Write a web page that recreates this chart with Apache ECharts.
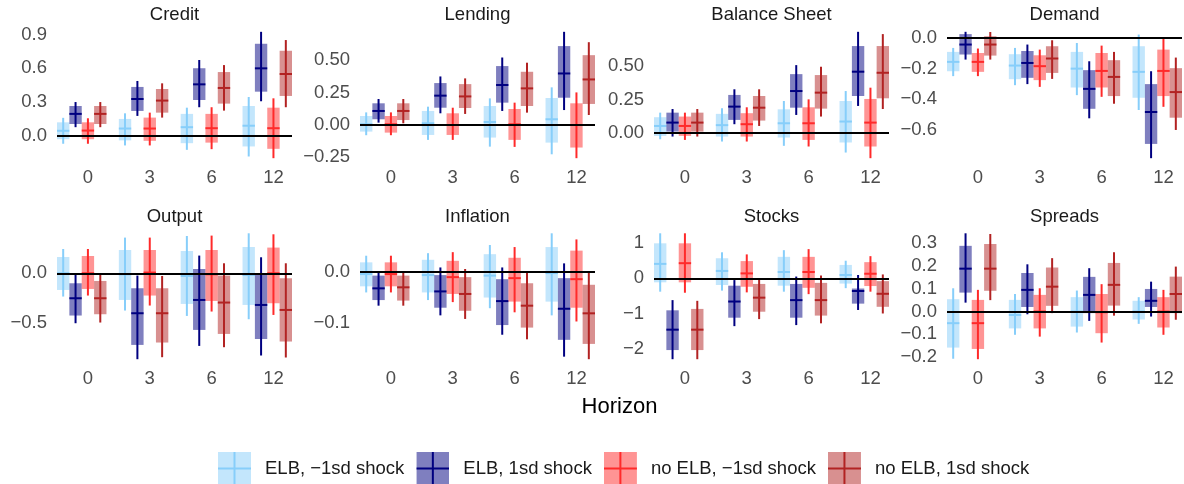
<!DOCTYPE html>
<html>
<head>
<meta charset="utf-8">
<script src="https://cdn.jsdelivr.net/npm/echarts@6/dist/echarts.min.js"></script>
<style>html,body{margin:0;padding:0;background:#fff}#c{width:1184px;height:484px}</style>
</head>
<body>
<div id="c"></div>
<script>
// ---------- data ----------
// each row: [lo90, lo68, median, hi68, hi90] for horizons 0,3,6,12
const horizons = ['0', '3', '6', '12'];
const seriesNames = ['ELB, \u22121sd shock', 'ELB, 1sd shock', 'no ELB, \u22121sd shock', 'no ELB, 1sd shock'];
const panelTitles = ['Credit', 'Lending', 'Balance Sheet', 'Demand', 'Output', 'Inflation', 'Stocks', 'Spreads'];

const credit = [
  [[-0.07,-0.03,0.045,0.12,0.16],[-0.085,-0.04,0.065,0.15,0.20],[-0.124,-0.065,0.077,0.195,0.25],[-0.183,-0.094,0.09,0.265,0.345]],
  [[0.077,0.105,0.195,0.265,0.30],[0.177,0.221,0.327,0.434,0.487],[0.254,0.318,0.457,0.60,0.673],[0.307,0.392,0.599,0.817,0.923]],
  [[-0.07,-0.03,0.047,0.12,0.156],[-0.085,-0.044,0.065,0.162,0.206],[-0.118,-0.06,0.068,0.195,0.254],[-0.198,-0.115,0.068,0.25,0.333]],
  [[0.077,0.105,0.195,0.265,0.30],[0.162,0.206,0.313,0.416,0.466],[0.224,0.286,0.425,0.566,0.628],[0.254,0.354,0.549,0.755,0.85]]
];
const lending = [
  [[-0.079,-0.051,0.005,0.069,0.097],[-0.115,-0.077,0.013,0.108,0.141],[-0.167,-0.097,0.023,0.146,0.205],[-0.226,-0.136,0.044,0.208,0.29]],
  [[0.018,0.044,0.108,0.167,0.2],[0.09,0.133,0.226,0.323,0.374],[0.108,0.172,0.308,0.454,0.52],[0.115,0.21,0.397,0.608,0.718]],
  [[-0.079,-0.059,0.005,0.069,0.097],[-0.115,-0.077,0.0,0.09,0.133],[-0.169,-0.115,0.005,0.123,0.172],[-0.256,-0.174,0.0,0.167,0.251]],
  [[0.013,0.038,0.108,0.167,0.2],[0.085,0.131,0.22,0.315,0.359],[0.095,0.146,0.282,0.41,0.48],[0.077,0.162,0.351,0.538,0.638]]
];
const balanceSheet = [
  [[-0.045,-0.02,0.054,0.119,0.153],[-0.062,-0.025,0.06,0.144,0.186],[-0.094,-0.032,0.074,0.178,0.24],[-0.144,-0.069,0.087,0.24,0.314]],
  [[-0.025,0.012,0.079,0.153,0.18],[0.067,0.099,0.198,0.285,0.327],[0.136,0.19,0.314,0.44,0.507],[0.203,0.277,0.458,0.649,0.755]],
  [[-0.05,-0.02,0.054,0.124,0.153],[-0.062,-0.025,0.067,0.149,0.193],[-0.099,-0.05,0.074,0.193,0.252],[-0.186,-0.099,0.079,0.255,0.339]],
  [[-0.025,0.012,0.079,0.153,0.18],[0.054,0.094,0.19,0.277,0.327],[0.124,0.183,0.302,0.433,0.495],[0.18,0.26,0.45,0.649,0.738]]
];
const demand = [
  [[-0.249,-0.217,-0.156,-0.091,-0.065],[-0.308,-0.269,-0.18,-0.106,-0.065],[-0.373,-0.323,-0.2,-0.091,-0.033],[-0.47,-0.39,-0.221,-0.054,0.022]],
  [[-0.141,-0.108,-0.043,0.025,0.04],[-0.301,-0.26,-0.163,-0.085,-0.043],[-0.524,-0.462,-0.332,-0.21,-0.152],[-0.784,-0.691,-0.483,-0.301,-0.217]],
  [[-0.249,-0.221,-0.156,-0.098,-0.069],[-0.319,-0.275,-0.184,-0.113,-0.076],[-0.384,-0.323,-0.215,-0.098,-0.05],[-0.449,-0.379,-0.215,-0.076,-0.004]],
  [[-0.141,-0.115,-0.043,0.011,0.039],[-0.267,-0.228,-0.134,-0.054,-0.015],[-0.429,-0.379,-0.254,-0.145,-0.091],[-0.6,-0.52,-0.353,-0.197,-0.128]]
];
const output = [
  [[-0.233,-0.167,0.0,0.163,0.243],[-0.373,-0.267,-0.01,0.233,0.357],[-0.427,-0.307,-0.027,0.223,0.373],[-0.46,-0.317,-0.017,0.263,0.4]],
  [[-0.5,-0.423,-0.25,-0.1,-0.007],[-0.86,-0.717,-0.4,-0.15,-0.023],[-0.727,-0.567,-0.267,0.043,0.177],[-0.823,-0.657,-0.317,-0.007,0.16]],
  [[-0.223,-0.157,0.0,0.173,0.243],[-0.323,-0.223,0.007,0.233,0.357],[-0.383,-0.277,-0.01,0.233,0.377],[-0.417,-0.3,0.0,0.257,0.39]],
  [[-0.493,-0.41,-0.25,-0.077,-0.007],[-0.84,-0.693,-0.4,-0.15,-0.027],[-0.74,-0.607,-0.293,-0.023,0.1],[-0.843,-0.683,-0.367,-0.05,0.1]]
];
const inflation = [
  [[-0.041,-0.029,-0.005,0.018,0.031],[-0.056,-0.041,-0.007,0.023,0.036],[-0.072,-0.051,-0.008,0.034,0.052],[-0.086,-0.059,-0.003,0.048,0.075]],
  [[-0.067,-0.056,-0.033,-0.008,0.0],[-0.086,-0.071,-0.039,-0.007,0.008],[-0.124,-0.105,-0.058,-0.015,0.008],[-0.167,-0.134,-0.073,-0.013,0.016]],
  [[-0.041,-0.029,-0.005,0.018,0.031],[-0.06,-0.044,-0.011,0.021,0.038],[-0.08,-0.059,-0.013,0.027,0.048],[-0.098,-0.071,-0.015,0.041,0.063]],
  [[-0.067,-0.057,-0.031,-0.008,0.001],[-0.093,-0.077,-0.044,-0.011,0.005],[-0.133,-0.11,-0.067,-0.023,-0.001],[-0.172,-0.142,-0.082,-0.026,-0.001]]
];
const stocks = [
  [[-0.38,-0.114,0.41,0.995,1.28],[-0.35,-0.19,0.21,0.57,0.74],[-0.38,-0.21,0.18,0.61,0.8],[-0.28,-0.15,0.095,0.38,0.5]],
  [[-2.3,-2.04,-1.46,-0.91,-0.62],[-1.36,-1.12,-0.66,-0.21,-0.05],[-1.33,-1.12,-0.62,-0.16,0.05],[-0.9,-0.72,-0.36,-0.29,0.095]],
  [[-0.41,-0.114,0.43,0.995,1.28],[-0.4,-0.24,0.14,0.49,0.68],[-0.45,-0.27,0.18,0.61,0.83],[-0.38,-0.22,0.13,0.46,0.63]],
  [[-2.3,-2.04,-1.46,-0.87,-0.64],[-1.16,-0.95,-0.55,-0.16,0.0],[-1.28,-1.06,-0.62,-0.13,0.08],[-1.0,-0.81,-0.44,-0.08,0.11]]
];
const spreads = [
  [[-0.207,-0.158,-0.051,0.054,0.102],[-0.102,-0.074,-0.015,0.051,0.077],[-0.092,-0.066,0.0,0.063,0.092],[-0.054,-0.035,0.0,0.047,0.063]],
  [[0.039,0.083,0.188,0.288,0.343],[-0.012,0.02,0.095,0.169,0.207],[-0.041,-0.007,0.073,0.152,0.19],[-0.022,0.02,0.047,0.099,0.131]],
  [[-0.209,-0.164,-0.051,0.051,0.095],[-0.11,-0.074,0.0,0.073,0.102],[-0.136,-0.095,-0.003,0.077,0.12],[-0.102,-0.07,0.0,0.063,0.095]],
  [[0.05,0.091,0.188,0.296,0.34],[-0.007,0.025,0.109,0.193,0.234],[-0.018,0.026,0.117,0.213,0.26],[-0.036,-0.007,0.077,0.153,0.197]]
];

// y tick values and decimals per panel
const yTicks = [
  [0, 0.3, 0.6, 0.9],
  [-0.25, 0, 0.25, 0.5],
  [0, 0.25, 0.5],
  [-0.6, -0.4, -0.2, 0],
  [-0.5, 0],
  [-0.1, 0],
  [-2, -1, 0, 1],
  [-0.2, -0.1, 0, 0.1, 0.2, 0.3]
];
const yDecimals = [1, 2, 2, 1, 1, 1, 0, 1];

// ---------- styling ----------
const panels = [credit, lending, balanceSheet, demand, output, inflation, stocks, spreads];
const lineColors = ['#87CEFA', '#000080', '#FF2A2A', '#B22222'];
const boxColors = ['rgba(135,206,250,0.5)', 'rgba(0,0,128,0.5)', 'rgba(255,42,42,0.5)', 'rgba(178,34,34,0.5)'];
const dodge = [-0.4, -0.2, 0, 0.2];
const markW = 0.2;
const colLeft = [57, 360, 654, 947];
const panelW = 235;
const rowTop = [25.5, 227];
const rowH = [139, 138.5];
const FS = 18.5;

function iconFor(i) {
  const c = lineColors[i];
  const svg = "<svg xmlns='http://www.w3.org/2000/svg' width='33' height='33'>" +
    "<rect x='0' y='0' width='33' height='33' fill='" + boxColors[i] + "'/>" +
    "<line x1='16.5' y1='0' x2='16.5' y2='33' stroke='" + c + "' stroke-width='2'/>" +
    "<line x1='0' y1='16.5' x2='33' y2='16.5' stroke='" + c + "' stroke-width='2'/></svg>";
  return 'image://data:image/svg+xml;charset=utf-8,' + encodeURIComponent(svg);
}

function makeRender(s) {
  return function (params, api) {
    const x = api.value(0) + dodge[s];
    const lo90 = api.value(1), lo68 = api.value(2), med = api.value(3), hi68 = api.value(4), hi90 = api.value(5);
    const w = api.size([markW, 0])[0];
    const pHi68 = api.coord([x, hi68]), pLo68 = api.coord([x, lo68]);
    const pHi90 = api.coord([x, hi90]), pLo90 = api.coord([x, lo90]);
    const pMed = api.coord([x, med]);
    return {
      type: 'group',
      children: [
        { type: 'rect', shape: { x: pHi68[0] - w / 2, y: pHi68[1], width: w, height: pLo68[1] - pHi68[1] },
          style: { fill: boxColors[s] } },
        { type: 'line', shape: { x1: pHi90[0], y1: pHi90[1], x2: pLo90[0], y2: pLo90[1] },
          style: { stroke: lineColors[s], lineWidth: 2 } },
        { type: 'line', shape: { x1: pMed[0] - w / 2, y1: pMed[1], x2: pMed[0] + w / 2, y2: pMed[1] },
          style: { stroke: lineColors[s], lineWidth: 2 } }
      ]
    };
  };
}

function fmt(v, d) {
  const s = v.toFixed(d);
  return s.replace('-', '\u2212');
}

const grid = [], xAxis = [], yAxis = [], series = [], title = [];
panels.forEach(function (pd, p) {
  const col = p % 4, row = Math.floor(p / 4);
  grid.push({ left: colLeft[col], width: panelW, top: rowTop[row], height: rowH[row], containLabel: false });
  let lo = 0, hi = 0;
  pd.forEach(function (ser) { ser.forEach(function (d) { lo = Math.min(lo, d[0]); hi = Math.max(hi, d[4]); }); });
  const pad = 0.05 * (hi - lo);
  xAxis.push({
    type: 'value', gridIndex: p, min: -0.5, max: 3.3,
    axisLine: { show: false }, axisTick: { show: false }, splitLine: { show: false },
    axisLabel: { customValues: [0, 1, 2, 3], formatter: function (v) { return horizons[Math.round(v)]; },
      fontSize: FS, color: '#4d4d4d', margin: 4, fontFamily: 'Liberation Sans, Arial, sans-serif' }
  });
  const dec = yDecimals[p];
  yAxis.push({
    type: 'value', gridIndex: p, min: lo - pad, max: hi + pad,
    axisLine: { show: false }, axisTick: { show: false }, splitLine: { show: false },
    axisLabel: { customValues: yTicks[p], formatter: function (v) { return fmt(v, dec); },
      fontSize: FS, color: '#4d4d4d', margin: 10, fontFamily: 'Liberation Sans, Arial, sans-serif' }
  });
  title.push({
    text: panelTitles[p], left: colLeft[col] + panelW / 2, top: row === 0 ? 5 : 207, textAlign: 'center', padding: 0,
    textStyle: { fontSize: FS, fontWeight: 'normal', color: '#1a1a1a', fontFamily: 'Liberation Sans, Arial, sans-serif' }
  });
  pd.forEach(function (ser, s) {
    const item = {
      type: 'custom', name: seriesNames[s], xAxisIndex: p, yAxisIndex: p,
      renderItem: makeRender(s),
      itemStyle: { color: lineColors[s] },
      encode: { x: 0, y: [1, 5] },
      data: ser.map(function (d, i) { return [i].concat(d); }),
      silent: true, z: 2 + s
    };
    if (s === 3) {
      item.markLine = {
        silent: true, symbol: 'none', label: { show: false },
        lineStyle: { color: '#000', width: 2, type: 'solid' },
        data: [{ yAxis: 0 }], z: 10
      };
    }
    series.push(item);
  });
});

title.push({
  text: 'Horizon', left: 619.5, top: 396, textAlign: 'center', padding: 0,
  textStyle: { fontSize: 22, fontWeight: 'normal', color: '#000', fontFamily: 'Liberation Sans, Arial, sans-serif' }
});

const chart = echarts.init(document.getElementById('c'), null, { renderer: 'canvas' });
chart.setOption({
  animation: false,
  backgroundColor: '#fff',
  title: title,
  grid: grid,
  xAxis: xAxis,
  yAxis: yAxis,
  legend: {
    data: seriesNames.map(function (n, i) { return { name: n, icon: iconFor(i) }; }),
    left: 213, top: 447, itemWidth: 33, itemHeight: 33, itemGap: 12, selectedMode: false,
    textStyle: { fontSize: FS, color: '#1a1a1a', padding: [0, 0, 0, 9], fontFamily: 'Liberation Sans, Arial, sans-serif' }
  },
  series: series
});
</script>
</body>
</html>
